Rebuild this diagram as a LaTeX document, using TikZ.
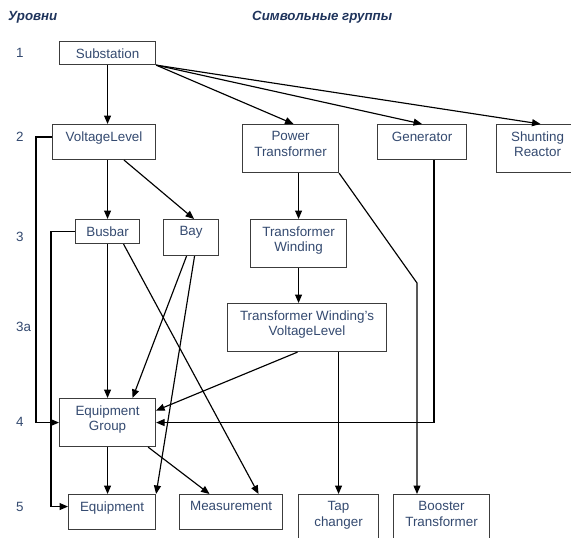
\documentclass[tikz,border=0pt]{standalone}
\usepackage{fontspec}
\setmainfont{Liberation Sans}
\usetikzlibrary{arrows.meta,calc}
\definecolor{txtblue}{RGB}{52,74,112}
\definecolor{hdrblue}{RGB}{31,52,92}
\definecolor{boxline}{RGB}{60,60,60}
\begin{document}
\begin{tikzpicture}[x=1pt,y=-1pt,
  box/.style={draw=boxline, line width=1.1pt, anchor=north west, inner sep=0pt, rectangle},
  lbl/.style={anchor=north, inner sep=0pt, yshift=-7.5pt, align=center, text=txtblue,
    font=\fontsize{13.4}{15.5}\selectfont},
  lvl/.style={anchor=west, inner sep=0pt, text=txtblue, font=\fontsize{13.4}{15.5}\selectfont},
  hdr/.style={anchor=west, inner sep=0pt, text=hdrblue, font=\fontsize{13.3}{15}\selectfont\bfseries\itshape},
  arr/.style={-{Triangle[length=8.5pt,width=7pt]}, line width=1.15pt, draw=black}]
\clip (0,0) rectangle (571,538);
\fill[white] (0,0) rectangle (571,538);

% column headers and level numbers
\node[hdr] (hlev) at (8,17) {Уровни};
\node[hdr] (hgrp) at (252,17) {Символьные группы};
\node[lvl] (l1) at (16,53) {1};
\node[lvl] (l2) at (16,137) {2};
\node[lvl] (l3) at (16,237) {3};
\node[lvl] (l3a) at (16,327) {3a};
\node[lvl] (l4) at (16,422) {4};
\node[lvl] (l5) at (16,507) {5};

% boxes
\node[box, minimum width=96pt, minimum height=23pt, label={[lbl]north:Substation}] (sub) at (59,41) {};
\node[box, minimum width=103pt, minimum height=35pt, label={[lbl]north:VoltageLevel}] (vl) at (52,124) {};
\node[box, minimum width=96pt, minimum height=48pt, label={[lbl]north:Power\\Transformer}] (pt) at (242,124) {};
\node[box, minimum width=89pt, minimum height=35pt, label={[lbl]north:Generator}] (gen) at (377,124) {};
\node[box, minimum width=82pt, minimum height=48pt, label={[lbl]north:Shunting\\Reactor}] (sr) at (496,124) {};
\node[box, minimum width=64pt, minimum height=24pt, label={[lbl]north:Busbar}] (bb) at (75,219) {};
\node[box, minimum width=55pt, minimum height=36pt, label={[lbl]north:Bay}] (bay) at (163,219) {};
\node[box, minimum width=96pt, minimum height=48pt, label={[lbl]north:Transformer\\Winding}] (tw) at (250,219) {};
\node[box, minimum width=159pt, minimum height=48pt, label={[lbl]north:Transformer Winding's\\VoltageLevel}] (twvl) at (227,303) {};
\node[box, minimum width=96pt, minimum height=48pt, label={[lbl]north:Equipment\\Group}] (eg) at (59,398) {};
\node[box, minimum width=87pt, minimum height=35pt, label={[lbl]north:Equipment}] (eq) at (68,494) {};
\node[box, minimum width=103pt, minimum height=35pt, label={[lbl]north:Measurement}] (meas) at (179,494) {};
\node[box, minimum width=80pt, minimum height=48pt, label={[lbl]north:Tap\\changer}] (tc) at (298,494) {};
\node[box, minimum width=96pt, minimum height=48pt, label={[lbl]north:Booster\\Transformer}] (bt) at (393,494) {};

% connectors
\draw[arr] (sub.south) -- (sub.south |- vl.north);
\draw[arr] (sub.south east) -- ([xshift=3pt]pt.north);
\draw[arr] (sub.south east) -- (gen.north);
\draw[arr] (sub.south east) -- ([xshift=3pt]sr.north);
\draw[arr] (bb.north |- vl.south) -- (bb.north);
\draw[arr] ([xshift=20pt]vl.south) -- ([xshift=3pt]bay.north);
\draw[arr] (tw.north |- pt.south) -- (tw.north);
\draw[arr] (tw.south) -- (tw.south |- twvl.north);
\coordinate (btbend) at (417,283);
\draw[arr] (pt.south east) -- (btbend) -- (btbend |- bt.north);
\draw[arr] ([xshift=12pt]gen.south) |- (eg.east);
\draw[arr] ([yshift=5pt]vl.west) -- ++(-16,0) |- (eg.west);
\draw[arr] (bb.west) -- ++(-24,0) |- ([yshift=5.5pt]eq.west);
\draw[arr] (bb.south) -- (bb.south |- eg.north);
\draw[arr] ([xshift=16pt]bb.south) -- ([xshift=27.5pt]meas.north);
\draw[arr] ([xshift=-4.5pt]bay.south) -- ([xshift=25pt]eg.north);
\draw[arr] ([xshift=3.5pt]bay.south) -- (eq.north east);
\draw[arr] ([xshift=-9.5pt]twvl.south) -- ([yshift=12pt]eg.east);
\draw[arr] (tc.north |- twvl.south) -- (tc.north);
\draw[arr] (eg.south) -- (eg.south |- eq.north);
\draw[arr] ([xshift=-8pt]eg.south east) -- ([xshift=-21.5pt]meas.north);
\end{tikzpicture}
\end{document}
